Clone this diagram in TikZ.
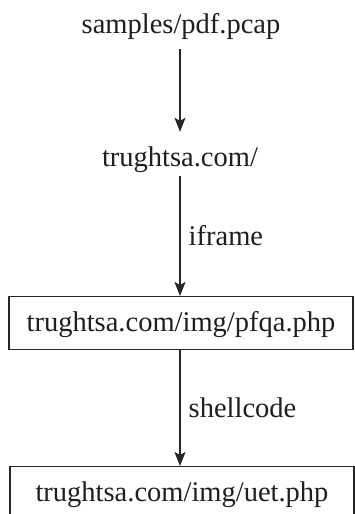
\documentclass[tikz,border=0pt]{standalone}
\usepackage{fontspec}
\setmainfont{Liberation Serif}
\usetikzlibrary{arrows.meta}
\begin{document}
\begin{tikzpicture}[x=1pt,y=-1pt,
  lbl/.style={font=\fontsize{28.5}{32}\selectfont, text=black!88, inner sep=0pt},
  boxnode/.style={lbl, draw=black!85, line width=1.3pt, minimum width=344pt,
    text height=35pt, text depth=18pt},
  arr/.style={draw=black!85, line width=1.4pt, -{Stealth[length=14pt,width=11pt,inset=3pt]}},
  edgelbl/.style={lbl, anchor=west, xshift=8pt}]
\useasboundingbox[fill=white] (0,0) rectangle (354,514);
\node[lbl, text height=20pt, text depth=16pt] (src) at (181,33) [anchor=base] {samples/pdf.pcap};
\node[lbl, text height=34pt, text depth=10pt] (mid) at (180,166) [anchor=base] {trughtsa.com/};
\node[boxnode, anchor=north] (b1) at (181,296) {trughtsa.com/img/pfqa.php};
\node[boxnode, anchor=north] (b2) at (182,466) {trughtsa.com/img/uet.php};
\draw[arr] (src.south -| 180,0) -- (mid.north);
\draw[arr] (mid.south) -- node[edgelbl] {iframe} (mid.south |- b1.north);
\draw[arr] (mid.south |- b1.south) -- node[edgelbl] {shellcode} (mid.south |- b2.north);
\end{tikzpicture}
\end{document}
